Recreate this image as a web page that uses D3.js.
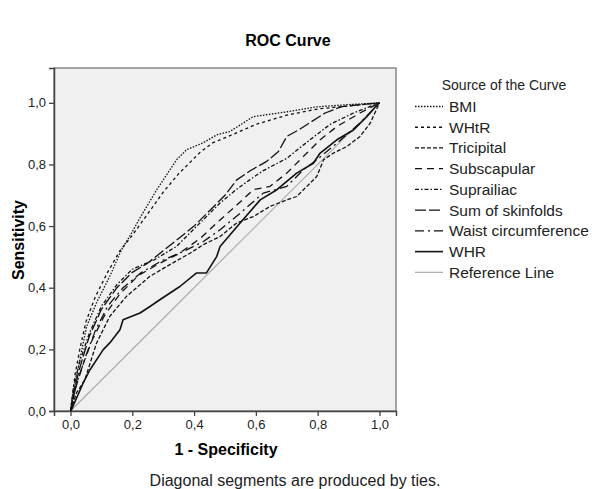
<!DOCTYPE html>
<html><head><meta charset="utf-8">
<script src="https://cdn.jsdelivr.net/npm/d3@7"></script>
<style>body{margin:0;background:#fff}</style>
</head><body><svg id="c" width="592" height="489"></svg>
<script>
const seriesNames = ["BMI","WHtR","Tricipital","Subscapular","Suprailiac","Sum of skinfolds","Waist circumference","WHR","Reference Line"];
const bmi = [[0,0],[0.003,0.004],[0.017,0.10],[0.03,0.166],[0.052,0.274],[0.084,0.351],[0.127,0.437],[0.165,0.523],[0.198,0.578],[0.225,0.627],[0.279,0.718],[0.343,0.815],[0.376,0.848],[0.429,0.870],[0.473,0.896],[0.516,0.907],[0.591,0.955],[0.701,0.971],[0.798,0.987],[0.895,0.994],[1,1]];
const whtr = [[0,0],[0.015,0.12],[0.03,0.2],[0.05,0.29],[0.08,0.37],[0.12,0.45],[0.16,0.52],[0.2,0.57],[0.25,0.64],[0.3,0.71],[0.35,0.77],[0.38,0.80],[0.42,0.84],[0.46,0.87],[0.52,0.895],[0.6,0.93],[0.7,0.96],[0.8,0.98],[0.9,0.99],[1,1]];
const tricipital = [[0,0],[0.02,0.06],[0.046,0.10],[0.084,0.22],[0.127,0.307],[0.181,0.372],[0.257,0.437],[0.33,0.48],[0.387,0.512],[0.43,0.54],[0.484,0.566],[0.538,0.61],[0.592,0.631],[0.646,0.664],[0.70,0.685],[0.732,0.696],[0.765,0.729],[0.797,0.761],[0.819,0.815],[0.851,0.837],[0.894,0.858],[0.937,0.891],[0.97,0.934],[1,1]];
const subscapular = [[0,0],[0.015,0.07],[0.04,0.15],[0.07,0.23],[0.11,0.31],[0.16,0.38],[0.22,0.44],[0.29,0.48],[0.35,0.51],[0.42,0.56],[0.484,0.62],[0.54,0.67],[0.592,0.718],[0.646,0.729],[0.70,0.772],[0.765,0.837],[0.808,0.88],[0.862,0.923],[0.937,0.967],[1,1]];
const suprailiac = [[0,0],[0.01,0.08],[0.03,0.16],[0.06,0.25],[0.1,0.34],[0.15,0.41],[0.2,0.46],[0.27,0.49],[0.343,0.534],[0.397,0.588],[0.44,0.631],[0.484,0.675],[0.538,0.72],[0.58,0.75],[0.624,0.78],[0.70,0.82],[0.775,0.88],[0.84,0.93],[0.916,0.967],[1,1]];
const skinfolds = [[0,0],[0.01,0.06],[0.03,0.14],[0.06,0.24],[0.1,0.33],[0.15,0.40],[0.2,0.45],[0.25,0.48],[0.3,0.52],[0.35,0.56],[0.4,0.6],[0.45,0.65],[0.5,0.7],[0.538,0.75],[0.587,0.783],[0.635,0.81],[0.673,0.842],[0.70,0.891],[0.738,0.912],[0.824,0.967],[0.878,0.988],[1,1]];
const waist = [[0,0],[0.02,0.09],[0.05,0.18],[0.08,0.26],[0.12,0.34],[0.17,0.40],[0.23,0.45],[0.3,0.49],[0.37,0.52],[0.43,0.55],[0.484,0.588],[0.549,0.642],[0.624,0.707],[0.70,0.729],[0.754,0.783],[0.797,0.815],[0.862,0.869],[0.937,0.934],[1,1]];
const whr = [[0,0],[0.003,0.004],[0.041,0.091],[0.063,0.134],[0.106,0.199],[0.127,0.221],[0.16,0.264],[0.17,0.296],[0.225,0.318],[0.257,0.339],[0.289,0.361],[0.322,0.383],[0.354,0.404],[0.408,0.448],[0.44,0.448],[0.473,0.501],[0.484,0.534],[0.549,0.610],[0.614,0.685],[0.668,0.718],[0.732,0.772],[0.786,0.804],[0.808,0.837],[0.862,0.880],[0.916,0.912],[0.959,0.955],[0.992,0.993],[1,1]];
const reference = [[0,0],[1,1]];
const xTicks = [0,0.2,0.4,0.6,0.8,1.0];
const yTicks = [0,0.2,0.4,0.6,0.8,1.0];

const allSeries = [bmi, whtr, tricipital, subscapular, suprailiac, skinfolds, waist, whr, reference];
const styles = [
  {dash:"1.5,1.5", w:1.3, c:"#111"},
  {dash:"3,3", w:1.3, c:"#111"},
  {dash:"4,2", w:1.3, c:"#111"},
  {dash:"7,5", w:1.3, c:"#111"},
  {dash:"4,2,1.5,2", w:1.3, c:"#111"},
  {dash:"11,3", w:1.3, c:"#111"},
  {dash:"9,4,2,4", w:1.3, c:"#111"},
  {dash:null, w:1.6, c:"#111"},
  {dash:null, w:1.2, c:"#aaaaaa"}
];
const font = "'Liberation Sans', Arial, sans-serif";
const svg = d3.select("#c");
const L=54, R=396, T=68, B=411;
const x = d3.scaleLinear().domain([-0.0535, 1.0535]).range([L, R]);
const y = d3.scaleLinear().domain([0, 1.113]).range([B, T]);
const fmt = v => d3.format(".1f")(v).replace(".", ",");

svg.append("text").attr("x",288).attr("y",46).attr("text-anchor","middle")
  .attr("font-family",font).attr("font-weight","bold").attr("font-size",16).text("ROC Curve");

svg.append("rect").attr("x",L).attr("y",T).attr("width",R-L).attr("height",B-T)
  .attr("fill","#f0f0f0").attr("stroke","#6a6a6a").attr("stroke-width",1.2);

svg.append("clipPath").attr("id","clip").append("rect").attr("x",L).attr("y",T).attr("width",R-L).attr("height",B-T);

const gx = svg.append("g").attr("transform",`translate(0,${B})`)
  .call(d3.axisBottom(x).tickValues(xTicks).tickFormat(fmt).tickSize(5).tickPadding(4));
const gy = svg.append("g").attr("transform",`translate(${L},0)`)
  .call(d3.axisLeft(y).tickValues(yTicks).tickFormat(fmt).tickSize(5).tickPadding(3));
[gx,gy].forEach(g=>{
  g.select(".domain").attr("stroke","#444").attr("stroke-width",1.5);
  g.selectAll(".tick line").attr("stroke","#444").attr("stroke-width",1.3);
  g.selectAll(".tick text").attr("font-family",font).attr("font-size",13).attr("fill","#222");
});

const line = d3.line().x(d=>x(d[0])).y(d=>y(d[1]));
const plot = svg.append("g").attr("clip-path","url(#clip)");
for (let i = allSeries.length-1; i>=0; i--) {
  const s = styles[i];
  plot.append("path").datum(allSeries[i]).attr("d",line).attr("fill","none")
    .attr("stroke",s.c).attr("stroke-width",s.w).attr("stroke-dasharray",s.dash)
    .attr("stroke-linejoin","round");
}

svg.append("text").attr("x",226).attr("y",455).attr("text-anchor","middle")
  .attr("font-family",font).attr("font-weight","bold").attr("font-size",16).text("1 - Specificity");
svg.append("text").attr("transform","translate(24,240) rotate(-90)").attr("text-anchor","middle")
  .attr("font-family",font).attr("font-weight","bold").attr("font-size",16).text("Sensitivity");
svg.append("text").attr("x",295).attr("y",486).attr("text-anchor","middle")
  .attr("font-family",font).attr("font-size",16).attr("fill","#222").text("Diagonal segments are produced by ties.");

const lg = svg.append("g");
lg.append("text").attr("x",504).attr("y",90).attr("text-anchor","middle")
  .attr("font-family",font).attr("font-size",14).attr("fill","#222").text("Source of the Curve");
seriesNames.forEach((n,i)=>{
  const cy = 106.5 + i*20.73;
  const s = styles[i];
  lg.append("line").attr("x1",415).attr("x2",443).attr("y1",cy).attr("y2",cy)
    .attr("stroke",s.c).attr("stroke-width",s.w).attr("stroke-dasharray",s.dash);
  lg.append("text").attr("x",449).attr("y",cy+5.5).attr("font-family",font).attr("font-size",15.5)
    .attr("fill","#222").text(n);
});
</script></body></html>
